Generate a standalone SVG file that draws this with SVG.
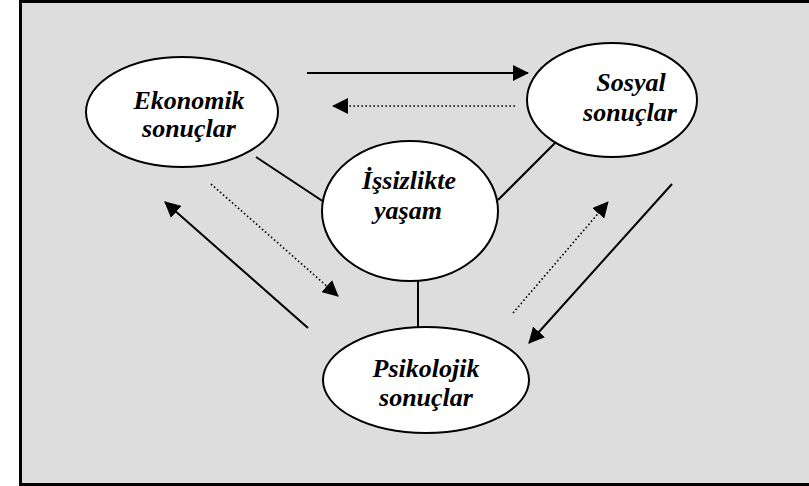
<svg xmlns="http://www.w3.org/2000/svg" width="809" height="486" viewBox="0 0 809 486">
<defs>
<style>
.node{fill:#ffffff;stroke:#000000;stroke-width:2}
.lbl{font-weight:bold;font-style:italic;font-size:26px;fill:#000000;text-anchor:middle}
.link{stroke:#000000;stroke-width:2;fill:none}
.solid{stroke:#000000;stroke-width:2;fill:none}
.dot{stroke:#000000;stroke-width:1.6;fill:none;stroke-dasharray:1.6 2.4}
</style>
<marker id="ah" viewBox="0 0 16 16" refX="15" refY="8" markerWidth="16" markerHeight="16" markerUnits="userSpaceOnUse" orient="auto">
<path d="M0,0 L16,8 L0,16 Z" fill="#000000"/>
</marker>
</defs>
<rect x="20.5" y="1.5" width="800" height="483" fill="#dddddd" stroke="#000000" stroke-width="3"/>
<g id="connectors">
<line class="link" x1="256" y1="157" x2="324" y2="202"/>
<line class="link" x1="560" y1="138" x2="498" y2="200"/>
<line class="link" x1="418" y1="280" x2="418" y2="327"/>
<line class="solid" x1="307" y1="73" x2="528" y2="73" marker-end="url(#ah)"/>
<line class="dot" x1="515" y1="106" x2="333" y2="106" marker-end="url(#ah)"/>
<line class="solid" x1="308" y1="328" x2="165" y2="202" marker-end="url(#ah)"/>
<line class="dot" x1="211" y1="184" x2="338" y2="296" marker-end="url(#ah)"/>
<line class="dot" x1="513" y1="313" x2="608" y2="202" marker-end="url(#ah)"/>
<line class="solid" x1="672" y1="184" x2="529" y2="343" marker-end="url(#ah)"/>
</g>
<g font-family="'Liberation Serif', 'DejaVu Serif', serif">
<g id="ekonomik">
<ellipse class="node" cx="182" cy="112" rx="96" ry="55"/>
<text class="lbl" x="189" y="109">Ekonomik</text>
<text class="lbl" x="189" y="137">sonuçlar</text>
</g>
<g id="sosyal">
<ellipse class="node" cx="612" cy="100" rx="85" ry="57"/>
<text class="lbl" x="631" y="91">Sosyal</text>
<text class="lbl" x="630" y="121">sonuçlar</text>
</g>
<g id="issizlikte">
<ellipse class="node" cx="410" cy="211" rx="88" ry="70"/>
<text class="lbl" x="409" y="189" font-size="23">İşsizlikte</text>
<text class="lbl" x="408" y="219" font-size="24">yaşam</text>
</g>
<g id="psikolojik">
<ellipse class="node" cx="426" cy="380" rx="103" ry="53"/>
<text class="lbl" x="426" y="377">Psikolojik</text>
<text class="lbl" x="426" y="406">sonuçlar</text>
</g>
</g>
</svg>
